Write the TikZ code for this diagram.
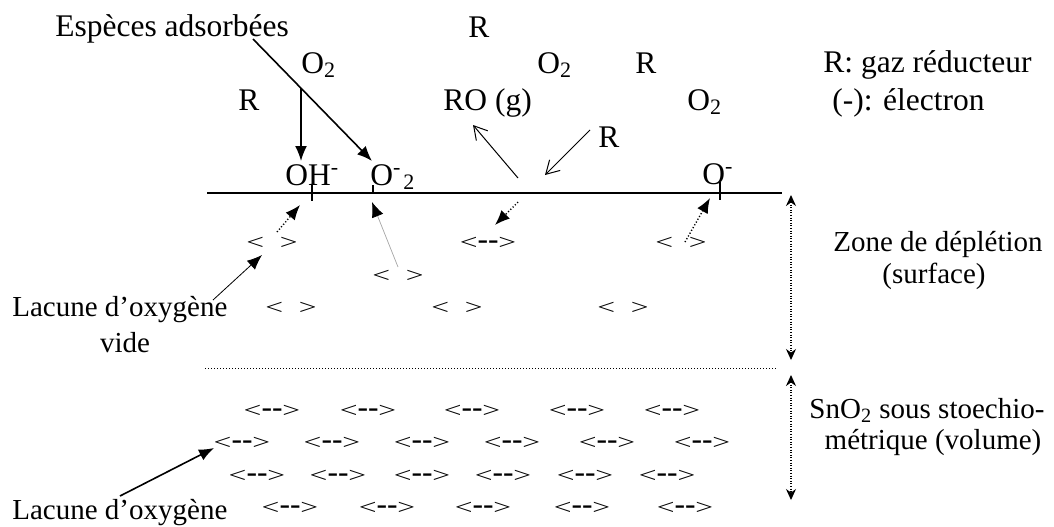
\documentclass[tikz,border=0pt]{standalone}
\usepackage{fontspec}
\usepackage{graphicx}
\setmainfont{Liberation Serif}
\usetikzlibrary{arrows.meta}

% oxygen vacancies: empty (< >) and holding two electrons (<-->)
\newcommand{\vlt}{\scalebox{1}[0.68]{<}}
\newcommand{\vgt}{\scalebox{1}[0.68]{>}}
\newcommand{\vacempty}{\vlt\enspace\vgt}
\newcommand{\vacfull}{\vlt-{}-\vgt}

\begin{document}
\begin{tikzpicture}[x=0.5pt,y=-0.5pt,
  big/.style={font=\fontsize{15.75pt}{18pt}\selectfont},
  small/.style={font=\fontsize{14.5pt}{17pt}\selectfont},
  lbl/.style={big,inner sep=0pt,anchor=base west},
  side/.style={small,inner sep=0pt,anchor=base},
  sidel/.style={small,inner sep=0pt,anchor=base west},
  vac/.style={big,inner sep=0pt,anchor=base},
  fillhead/.style={-{Latex[length=7.5pt,width=6pt,color=black]}},
  boldarrow/.style={fillhead,line width=0.8pt},
  thinarrow/.style={fillhead,line width=0.4pt},
  greyarrow/.style={fillhead,draw=gray!70,line width=0.35pt},
  dotarrow/.style={fillhead,line width=0.7pt,dash pattern=on 0.6pt off 1pt},
  openarrow/.style={-{Straight Barb[length=6.5pt,width=7.5pt]},line width=0.5pt},
  extent/.style={{Stealth[length=5.5pt,width=5pt]}-{Stealth[length=5.5pt,width=5pt]},line width=0.6pt,dash pattern=on 0.5pt off 0.8pt},
  surface/.style={line width=1.2pt},
  tick/.style={line width=0.6pt},
  boundary/.style={line width=0.5pt,dash pattern=on 0.5pt off 1pt}
]
\useasboundingbox (0,0) rectangle (1054,526);

% gas phase and legend
\node[lbl] (esp)  at (55,36)   {Espèces adsorbées};
\node[lbl] (r1)   at (468,37)  {R};
\node[lbl] (o2a)  at (301,73)  {O\textsubscript{2}};
\node[lbl] (o2b)  at (537,73)  {O\textsubscript{2}};
\node[lbl] (r2)   at (635,73)  {R};
\node[lbl] (leg1) at (823,72)  {R: gaz réducteur};
\node[lbl] (r3)   at (238,110) {R};
\node[lbl] (ro)   at (443,110) {RO (g)};
\node[lbl] (o2c)  at (687,110) {O\textsubscript{2}};
\node[lbl] (leg2) at (832,110) {(-): électron};
\node[lbl] (r4)   at (598,147) {R};

% adsorbed species
\node[lbl] (oh)  at (285,185) {OH\textsuperscript{-}};
\node[lbl] (o2m) at (370,185) {O\textsuperscript{-}\kern1pt\textsubscript{2}};
\node[lbl] (om)  at (702,184) {O\textsuperscript{-}};

% grain surface and bulk boundary
\coordinate (sL) at (207,193);
\coordinate (sR) at (782,193);
\draw[surface] (sL) -- (sR);
\coordinate (t1a) at (312,185); \coordinate (t1b) at (312,201);
\coordinate (t2a) at (373,185); \coordinate (t2b) at (373,194);
\coordinate (t3a) at (720,182); \coordinate (t3b) at (720,200);
\draw[tick] (t1a) -- (t1b);
\draw[tick] (t2a) -- (t2b);
\draw[tick] (t3a) -- (t3b);
\coordinate (bL) at (205,368);
\coordinate (bR) at (778,368);
\draw[boundary] (bL) -- (bR);

% adsorption arrows
\coordinate (espfoot) at (253,39);
\coordinate (o2mtip)  at (372,161);
\coordinate (split)   at (301,88);
\coordinate (ohtip)   at (301,161);
\draw[boldarrow] (espfoot) -- (o2mtip);
\draw[boldarrow] (split) -- (ohtip);

% reducing gas reaction at the surface
\coordinate (roA) at (518,178); \coordinate (roT) at (473,125);
\coordinate (rA)  at (590,130); \coordinate (rT)  at (545,175);
\draw[openarrow] (roA) -- (roT);
\draw[openarrow] (rA) -- (rT);

% depletion zone vacancies
\node[vac] (v1) at (272,249) {\vacempty};
\node[vac] (v2) at (488,249) {\vacfull};
\node[vac] (v3) at (681,249) {\vacempty};
\node[vac] (v4) at (398,282) {\vacempty};
\node[vac] (v5) at (291,314) {\vacempty};
\node[vac] (v6) at (457,314) {\vacempty};
\node[vac] (v7) at (623,314) {\vacempty};

% electron transfer arrows
\coordinate (d1a) at (277,232); \coordinate (d1t) at (300,205);
\coordinate (g1a) at (398,267); \coordinate (g1t) at (372,202);
\coordinate (d2a) at (518,202); \coordinate (d2t) at (495,225);
\coordinate (d3a) at (685,242); \coordinate (d3t) at (710,198);
\draw[dotarrow]  (d1a) -- (d1t);
\draw[greyarrow] (g1a) -- (g1t);
\draw[dotarrow]  (d2a) -- (d2t);
\draw[dotarrow]  (d3a) -- (d3t);

% bulk vacancies
\foreach \x [count=\i] in {272,368,472,577,672}
  \node[vac] (ba\i) at (\x,417) {\vacfull};
\foreach \x [count=\i] in {242,332,422,512,607,702}
  \node[vac] (bb\i) at (\x,449) {\vacfull};
\foreach \x [count=\i] in {257,338,422,503,585,667}
  \node[vac] (bc\i) at (\x,482) {\vacfull};
\foreach \x [count=\i] in {290,387,483,582,685}
  \node[vac] (bd\i) at (\x,514) {\vacfull};

% vacancy labels
\node[sidel] (lac1) at (12,316) {Lacune d’oxygène};
\node[side]  (vide) at (125,352) {vide};
\node[sidel] (lac2) at (12,519) {Lacune d’oxygène};
\coordinate (l1a) at (213,300); \coordinate (l1t) at (262,255);
\coordinate (l2a) at (120,496); \coordinate (l2t) at (214,448);
\draw[thinarrow] (l1a) -- (l1t);
\draw[boldarrow] (l2a) -- (l2t);

% zone extents
\coordinate (zT) at (791,195); \coordinate (zB) at (791,360);
\coordinate (vT) at (791,375); \coordinate (vB) at (791,500);
\draw[extent] (zT) -- (zB);
\draw[extent] (vT) -- (vB);
\node[side] (zone1) at (938,251) {Zone de déplétion};
\node[side] (zone2) at (934,283) {(surface)};
\node[side] (sn1)   at (927,418) {SnO\textsubscript{2} sous stoechio-};
\node[side] (sn2)   at (933,449) {métrique (volume)};
\end{tikzpicture}
\end{document}
